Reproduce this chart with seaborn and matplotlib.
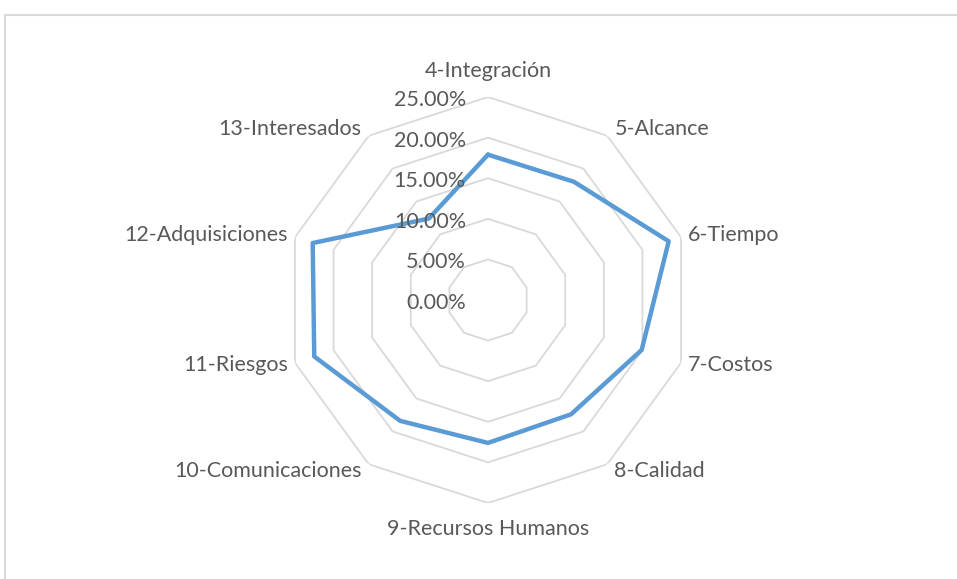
import numpy as np
import matplotlib.pyplot as plt
import seaborn as sns
from matplotlib.patches import Rectangle

# DATOS
categorias = ["4-Integración", "5-Alcance", "6-Tiempo", "7-Costos", "8-Calidad",
              "9-Recursos Humanos", "10-Comunicaciones", "11-Riesgos",
              "12-Adquisiciones", "13-Interesados"]
valores = [17.9, 18.0, 23.4, 19.9, 17.4, 17.6, 18.4, 22.5, 22.7, 12.4]
niveles = [0, 5, 10, 15, 20, 25]
etiquetas_niveles = ["0.00%", "5.00%", "10.00%", "15.00%", "20.00%", "25.00%"]

sns.set_style("white")
plt.rcParams['font.family'] = ['Lato', 'DejaVu Sans']

gris_texto = "#595959"
gris_linea = "#D9D9D9"
azul = "#5B9BD5"
tam = 15.5

fig = plt.figure(figsize=(9.57, 5.79), dpi=100)
ax = fig.add_axes([285 / 957, 76 / 579, 406 / 957, 406 / 579], projection="polar")
ax.set_theta_zero_location("N")
ax.set_theta_direction(-1)
ax.set_ylim(0, 25)
ax.grid(False)
ax.spines["polar"].set_visible(False)
ax.set_xticks([])
ax.set_yticks([])
ax.patch.set_alpha(0)

n = len(categorias)
angulos = np.linspace(0, 2 * np.pi, n, endpoint=False)
ang_cerrado = np.append(angulos, 2 * np.pi)

# anillos poligonales
for r in niveles[1:]:
    ax.plot(ang_cerrado, [r] * (n + 1), color=gris_linea, lw=1.3, zorder=1)

# serie
sns.lineplot(x=ang_cerrado, y=valores + valores[:1], ax=ax, sort=False,
             color=azul, lw=3.2, zorder=3)

# etiquetas radiales
for r, lab in zip(niveles, etiquetas_niveles):
    ax.annotate(lab, xy=(0, r), xytext=(-22, -3), textcoords="offset pixels",
                ha="right", va="center", fontsize=tam, color=gris_texto, zorder=4)

# etiquetas de categorias
for a, lab in zip(angulos, categorias):
    s, c = np.sin(a), np.cos(a)
    if abs(s) < 0.1:
        dx, dy, ha = 0, 26 * np.sign(c), "center"
    else:
        dx, dy, ha = 7 * np.sign(s), 8 * c, ("left" if s > 0 else "right")
    ax.annotate(lab, xy=(a, 25), xytext=(dx, dy), textcoords="offset pixels",
                ha=ha, va="center", fontsize=tam, color=gris_texto)

# borde del area del grafico
fig.patches.append(Rectangle((5 / 957, -0.1), 1.2, 1.1 - 15 / 579,
                             transform=fig.transFigure, fill=False,
                             edgecolor=gris_linea, lw=1.5))

fig.savefig("out.png", dpi=100)
